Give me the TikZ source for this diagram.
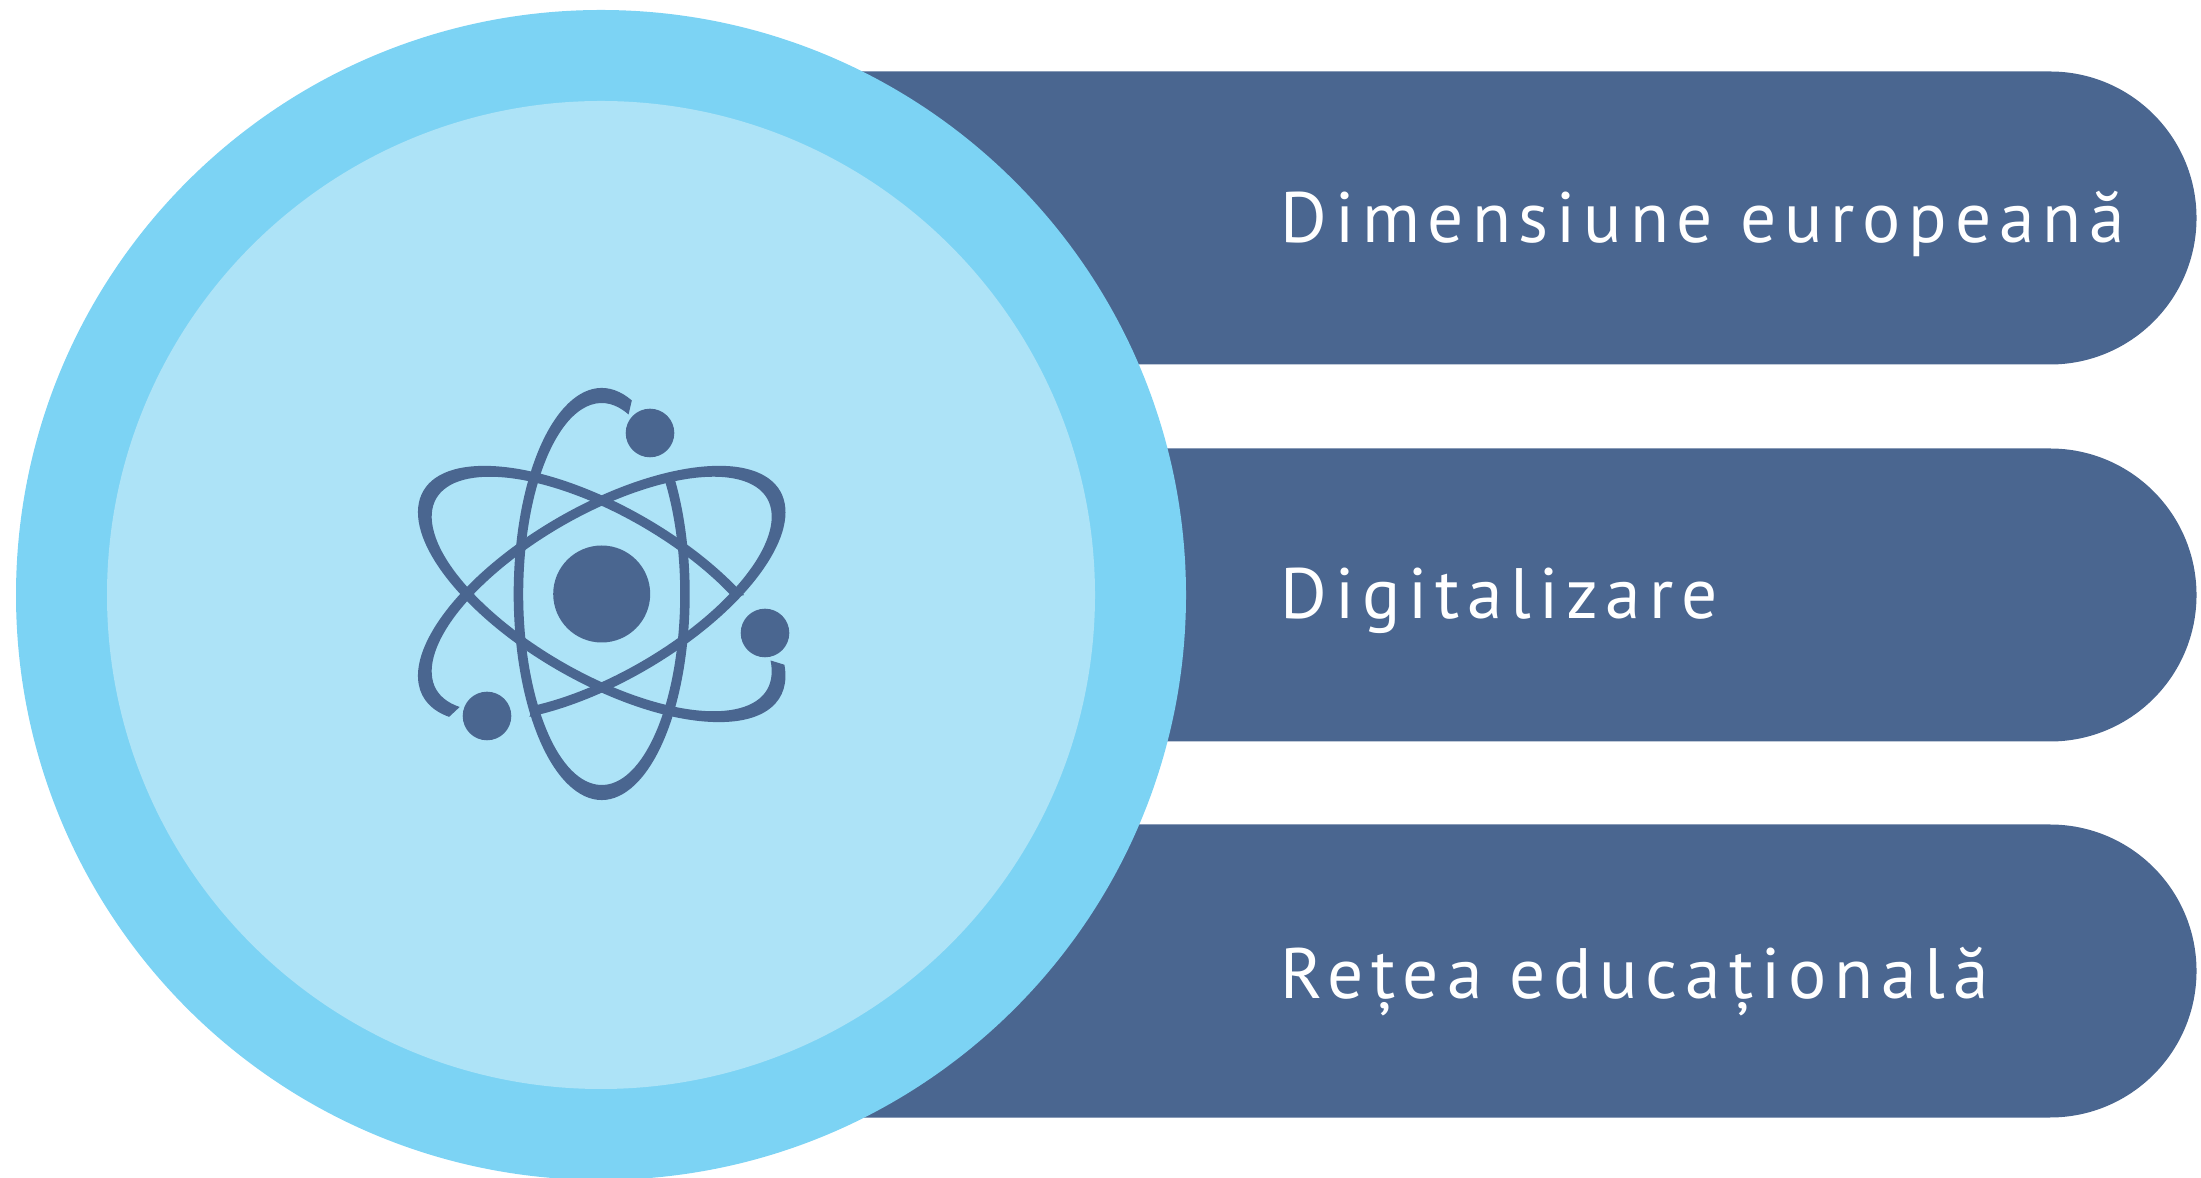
\documentclass[tikz,border=0pt]{standalone}
\usepackage{fontspec}
\setmainfont{PT Sans}

\definecolor{barblue}{HTML}{4A6690}
\definecolor{ringblue}{HTML}{7CD3F4}
\definecolor{coreblue}{HTML}{ADE3F7}

\begin{document}
\begin{tikzpicture}[x=0.1mm, y=0.1mm,
    bar/.style={fill=barblue},
    itemtext/.style={anchor=base west, inner sep=0pt, text=white,
    font=\fontsize{20.3pt}{24pt}\selectfont\addfontfeatures{LetterSpace=11}},
    atom/.style={fill=barblue},
    ]
    \useasboundingbox (0,0) rectangle (2201,-1178);

    % the three bars
    \fill[bar] (600,-71.5) -- (2050,-71.5) arc[start angle=90, end angle=-90, radius=146.5] -- (600,-364.5) -- cycle;
    \fill[bar] (600,-448.5) -- (2050,-448.5) arc[start angle=90, end angle=-90, radius=146.5] -- (600,-741.5) -- cycle;
    \fill[bar] (600,-824.5) -- (2050,-824.5) arc[start angle=90, end angle=-90, radius=146.5] -- (600,-1117.5) -- cycle;

    \node[itemtext] (t1) at (1280,-243) {Dimensiune europeană};
    \node[itemtext] (t2) at (1280,-619) {Digitalizare};
    \node[itemtext] (t3) at (1280,-999) {Rețea educațională};

    % the disc
    \coordinate (c) at (601,-595);
    \fill[ringblue] (c) circle[radius=585];
    \fill[coreblue] (c) circle[radius=494];

    % atom
    \begin{scope}[shift={(601.7,-594)}]
        \foreach \r/\a/\b in {0/70/396, 60/-37/290, -60/-37/290}
            \fill[atom, rotate=\r] (\a:88 and 206) arc[start angle=\a, end angle=\b, x radius=88, y radius=206]
                -- (\b:78.5 and 191) arc[start angle=\b, end angle=\a, x radius=78.5, y radius=191] -- cycle;
        \fill[atom] (0,0) circle[radius=48.5];
        \fill[atom] (48.3,161) circle[radius=24.3];
        \fill[atom] (163.3,-39) circle[radius=24.3];
        \fill[atom] (-114.7,-122) circle[radius=24.3];
    \end{scope}
\end{tikzpicture}
\end{document}
